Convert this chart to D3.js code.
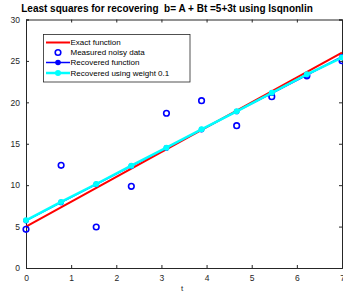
<!DOCTYPE html>
<html><head><meta charset="utf-8">
<script src="https://cdn.jsdelivr.net/npm/d3@7"></script>
<style>body{margin:0;background:#fff}svg{display:block}</style>
</head><body>
<script>
const tVals = [0, 0.7778, 1.5556, 2.3333, 3.1111, 3.8889, 4.6667, 5.4444, 6.2222, 7];
const noisy = [4.67, 12.4, 4.95, 9.86, 18.68, 20.2, 17.18, 20.68, 23.2, 25.03];
const exactT = [0, 7];
const exactY = [5, 26];
const recovered = [5.72, 7.92, 10.1, 12.3, 14.5, 16.7, 18.9, 21.1, 23.3, 25.5];
const recoveredW = [5.76, 7.97, 10.14, 12.35, 14.52, 16.74, 18.92, 21.15, 23.38, 25.4];
const xTicks = [0,1,2,3,4,5,6,7];
const yTicks = [0,5,10,15,20,25,30];
const legendLabels = ["Exact function","Measured noisy data","Recovered function","Recovered using weight 0.1"];
const titleText = "Least squares for recovering  b= A + Bt =5+3t using lsqnonlin";

const W=343,H=294;
const L=26,R=342,T=19.5,B=268;
const svg=d3.select("body").append("svg").attr("width",W).attr("height",H);
const x=d3.scaleLinear().domain([0,7]).range([L,R]);
const y=d3.scaleLinear().domain([0,30]).range([B,T]);
const axCol="#262626", font="Liberation Sans, Arial, sans-serif";

// axes
const tl=3;
const gx=svg.append("g").attr("transform",`translate(0,${B})`).call(d3.axisBottom(x).tickValues(xTicks).tickSize(-tl).tickPadding(7).tickFormat(d3.format("d")));
const gxt=svg.append("g").attr("transform",`translate(0,${T})`).call(d3.axisTop(x).tickValues(xTicks).tickSize(-tl).tickFormat(""));
const gy=svg.append("g").attr("transform",`translate(${L},0)`).call(d3.axisLeft(y).tickValues(yTicks).tickSize(-tl).tickPadding(6).tickFormat(d3.format("d")));
const gyr=svg.append("g").attr("transform",`translate(${R},0)`).call(d3.axisRight(y).tickValues(yTicks).tickSize(-tl).tickFormat(""));
[gx,gxt,gy,gyr].forEach(g=>{
  g.selectAll("path").attr("stroke",axCol).attr("stroke-width",1);
  g.selectAll("line").attr("stroke",axCol);
  g.selectAll("text").attr("fill",axCol).attr("font-family",font).attr("font-size",8.5);
});
gx.selectAll("text").attr("dy","0.71em");

svg.append("text").attr("x",(L+R)/2-2).attr("y",291).attr("text-anchor","middle").attr("font-family",font).attr("font-size",8).attr("fill",axCol).text("t");

svg.append("text").attr("x",167).attr("y",12).attr("text-anchor","middle").attr("font-family",font).attr("font-weight","bold").attr("font-size",10).attr("fill","#000").style("white-space","pre").attr("xml:space","preserve").text(titleText);

const line=d3.line().x(d=>x(d[0])).y(d=>y(d[1]));
// exact
svg.append("path").datum(exactT.map((t,i)=>[t,exactY[i]])).attr("d",line).attr("fill","none").attr("stroke","#ff0000").attr("stroke-width",2);
// noisy circles
svg.append("g").selectAll("circle").data(tVals.map((t,i)=>[t,noisy[i]])).join("circle")
  .attr("cx",d=>x(d[0])).attr("cy",d=>y(d[1])).attr("r",2.8).attr("fill","none").attr("stroke","#0000ff").attr("stroke-width",1.6);
// recovered
const rec=tVals.map((t,i)=>[t,recovered[i]]);
svg.append("path").datum(rec).attr("d",line).attr("fill","none").attr("stroke","#0000ff").attr("stroke-width",1.5);
svg.append("g").selectAll("circle").data(rec).join("circle").attr("cx",d=>x(d[0])).attr("cy",d=>y(d[1])).attr("r",2.8).attr("fill","#0000ff");
const recW=tVals.map((t,i)=>[t,recoveredW[i]]);
svg.append("path").datum(recW).attr("d",line).attr("fill","none").attr("stroke","#00ffff").attr("stroke-width",2.5);
svg.append("g").selectAll("circle").data(recW).join("circle").attr("cx",d=>x(d[0])).attr("cy",d=>y(d[1])).attr("r",3).attr("fill","#00ffff");

// legend
const lg=svg.append("g");
lg.append("rect").attr("x",43.5).attr("y",34.5).attr("width",146.5).attr("height",47.5).attr("fill","#fff").attr("stroke",axCol).attr("stroke-width",0.8);
const ly=[42.5,52.5,62.5,73];
legendLabels.forEach((lab,i)=>{
  const yy=ly[i];
  if(i===0){lg.append("line").attr("x1",46).attr("x2",70).attr("y1",yy).attr("y2",yy).attr("stroke","#ff0000").attr("stroke-width",2);}
  if(i===1){lg.append("circle").attr("cx",58).attr("cy",yy).attr("r",2.8).attr("fill","none").attr("stroke","#0000ff").attr("stroke-width",1.6);}
  if(i===2){lg.append("line").attr("x1",46).attr("x2",70).attr("y1",yy).attr("y2",yy).attr("stroke","#0000ff").attr("stroke-width",1.5);
    lg.append("circle").attr("cx",58).attr("cy",yy).attr("r",2.8).attr("fill","#0000ff");}
  if(i===3){lg.append("line").attr("x1",46).attr("x2",70).attr("y1",yy).attr("y2",yy).attr("stroke","#00ffff").attr("stroke-width",2.5);
    lg.append("circle").attr("cx",58).attr("cy",yy).attr("r",3).attr("fill","#00ffff");}
  lg.append("text").attr("x",70.5).attr("y",yy).attr("dy","0.35em").attr("font-family",font).attr("font-size",8).attr("fill","#000").text(lab);
});
</script>
</body></html>
